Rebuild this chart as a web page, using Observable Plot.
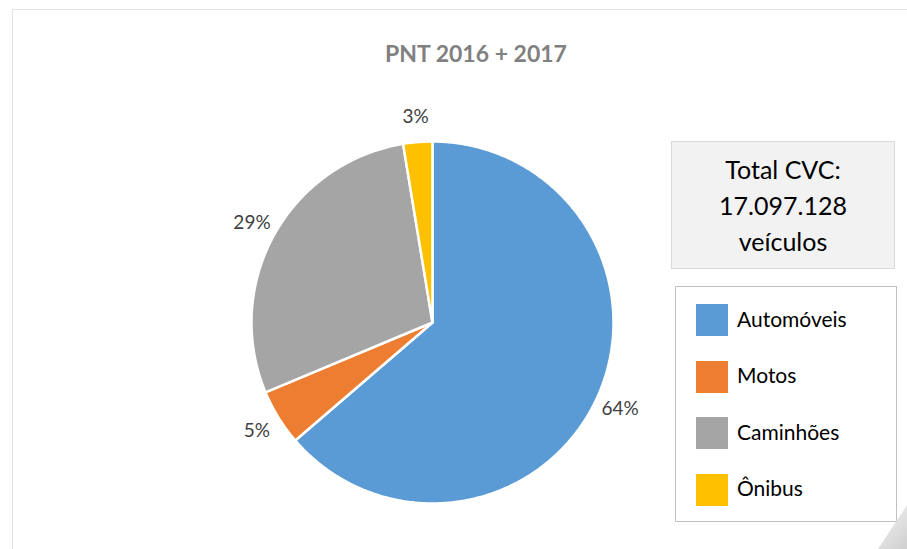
<!DOCTYPE html>
<html>
<head>
<meta charset="utf-8">
<script src="https://cdn.jsdelivr.net/npm/d3@7"></script>
<script src="https://cdn.jsdelivr.net/npm/@observablehq/plot@0.6"></script>
<style>
  html, body { margin: 0; padding: 0; background: #fff; }
  body { width: 907px; height: 549px; overflow: hidden; position: relative; font-family: Lato, "Open Sans", sans-serif; }
  #frame { position: absolute; left: 12px; top: 9px; width: 920px; height: 560px; border: 1px solid #e3e3e3; box-sizing: border-box; }
  #chart { position: absolute; left: 0; top: 0; }
  #title { position: absolute; left: 0; width: 952px; top: 39px; text-align: center; font-weight: bold; font-size: 23px; color: #808080; }
  #total { position: absolute; left: 671px; top: 141px; width: 224px; height: 128px; background: #f2f2f2; border: 1px solid #d9d9d9; box-sizing: border-box; text-align: center; font-size: 25px; line-height: 36px; padding-top: 9px; color: #000; }
  #legend { position: absolute; left: 675px; top: 286px; width: 222px; height: 236px; background: #fff; border: 1px solid #bfbfbf; box-sizing: border-box; }
  .row { position: absolute; left: 20px; height: 32px; display: flex; align-items: center; font-size: 21px; color: #000; }
  .row span { position: relative; top: -2px; }
  .sw { width: 32px; height: 32px; margin-right: 9px; }
  #corner { position: absolute; left: 878px; top: 505px; width: 29px; height: 44px; background: linear-gradient(135deg, #f4f4f4, #cfcfcf); clip-path: polygon(100% 0, 100% 100%, 0 100%); }
</style>
</head>
<body>
<div id="frame"></div>
<div id="chart"></div>
<div id="title">PNT 2016 + 2017</div>
<div id="total">Total CVC:<br>17.097.128<br>veículos</div>
<div id="legend"></div>
<div id="corner"></div>
<script>
// Data
const categories = ["Automóveis", "Motos", "Caminhões", "Ônibus"];
const shares = [63.7, 5.0, 28.7, 2.6];
const labels = ["64%", "5%", "29%", "3%"];
const colors = ["#5B9BD5", "#ED7D31", "#A5A5A5", "#FFC000"];

// Layout
const W = 907, H = 549;
const cx = 432, cy = 322, R = 181;
const labelR = 1.14;

const pie = d3.pie().sort(null).value(d => d.share)(
  categories.map((c, i) => ({category: c, share: shares[i], label: labels[i]}))
);

// polygon points (unit radius) for each slice
const pts = [];
for (const s of pie) {
  const n = Math.max(4, Math.ceil((s.endAngle - s.startAngle) / 0.01));
  pts.push({category: s.data.category, x: 0, y: 0});
  for (let k = 0; k <= n; k++) {
    const a = s.startAngle + (s.endAngle - s.startAngle) * k / n;
    pts.push({category: s.data.category, x: Math.sin(a), y: Math.cos(a)});
  }
  pts.push({category: s.data.category, x: 0, y: 0});
}
const lab = pie.map(s => {
  const a = (s.startAngle + s.endAngle) / 2;
  return {label: s.data.label, x: labelR * Math.sin(a), y: labelR * Math.cos(a)};
});

const chart = Plot.plot({
  width: W, height: H,
  margin: 0,
  x: {domain: [-1, 1], range: [cx - R, cx + R], axis: null},
  y: {domain: [-1, 1], range: [cy + R, cy - R], axis: null},
  color: {domain: categories, range: colors},
  style: {background: "transparent", fontFamily: "Lato, 'Open Sans', sans-serif"},
  marks: [
    Plot.line(pts, {x: "x", y: "y", z: "category", fill: "category", stroke: "#fff", strokeWidth: 2.5, strokeLinejoin: "round", curve: "linear"}),
    Plot.text(lab, {x: "x", y: "y", text: "label", fontSize: 19, fill: "#404040"})
  ]
});
document.getElementById("chart").appendChild(chart);

// Legend
const legend = document.getElementById("legend");
categories.forEach((c, i) => {
  const row = document.createElement("div");
  row.className = "row";
  row.style.top = (17 + i * 56.5) + "px";
  const sw = document.createElement("div");
  sw.className = "sw";
  sw.style.background = colors[i];
  const t = document.createElement("span");
  t.textContent = c;
  row.appendChild(sw); row.appendChild(t);
  legend.appendChild(row);
});
</script>
</body>
</html>
